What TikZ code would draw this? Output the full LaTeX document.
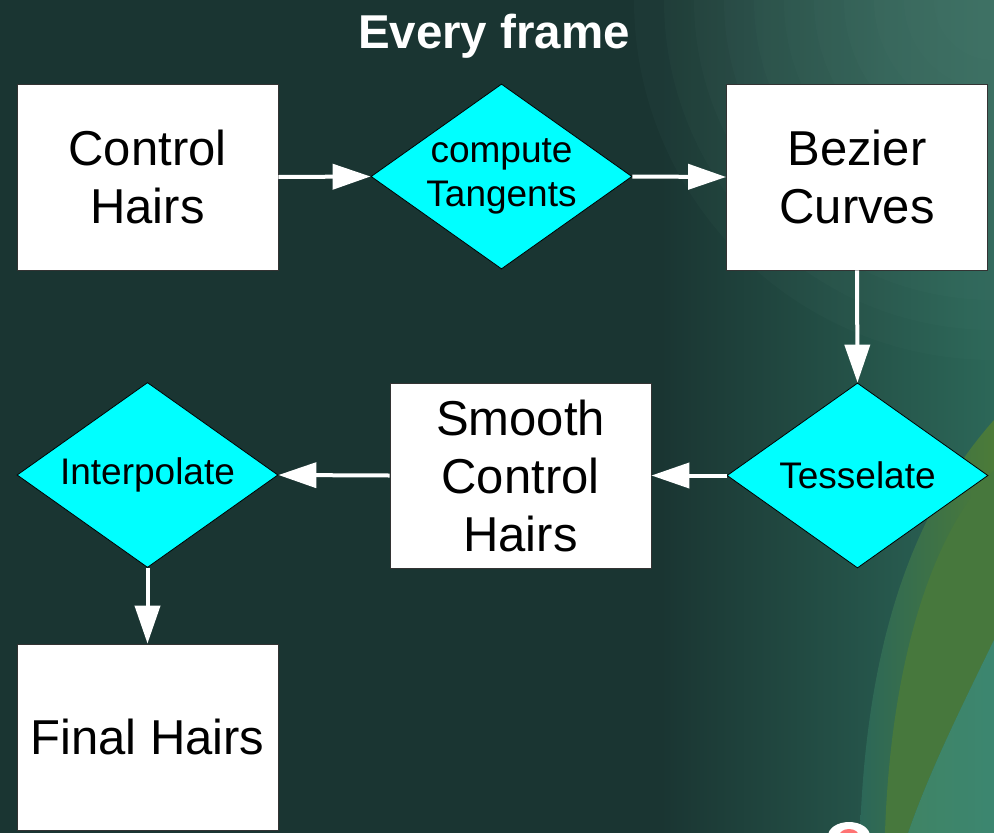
\documentclass[tikz,border=0pt]{standalone}
\usepackage{fontspec}
\setmainfont{Liberation Sans}
\usetikzlibrary{shapes.geometric,arrows.meta}

\definecolor{bgbase}{HTML}{1A3532}
\definecolor{bgteal}{HTML}{2C6758}
\definecolor{bgtealB}{HTML}{3C8670}
\definecolor{bggreen}{HTML}{4C7B38}
\definecolor{boxedge}{HTML}{333333}
\definecolor{aqua}{RGB}{0,255,255}

\tikzset{
  procbox/.style={rectangle, draw=boxedge, line width=0.8pt, fill=white,
    minimum width=261pt, minimum height=186pt, inner sep=0pt, align=center,
    font=\fontsize{49pt}{58pt}\selectfont},
  decide/.style={diamond, draw=black, line width=0.8pt, fill=aqua,
    minimum width=261pt, minimum height=185pt, inner sep=0pt},
  decidetext/.style={align=center, inner sep=0pt,
    font=\fontsize{37pt}{44pt}\selectfont},
  flow/.style={draw=white, line width=4pt,
    -{Triangle[length=38pt, width=25pt]}},
}

\begin{document}
\begin{tikzpicture}[x=1pt, y=-1pt]
  % backdrop
  \fill[bgbase] (0,0) rectangle (994,833);
  \useasboundingbox (0,0) rectangle (994,833);
  \shade[left color=bgbase, right color=bgteal] (660,0) rectangle (994,833);
  % soft glow in the upper right corner, built from faint rings
  \foreach \r in {360,330,...,60}
    \fill[bgteal!75!white, opacity=0.05] (994,0) circle (\r);
  % green crescent with a soft inner edge
  \shade[left color=bgteal, right color=bggreen]
    (860,833) .. controls (866,660) and (905,520) .. (994,420)
    -- (994,640) .. controls (960,710) and (930,770) .. (908,833) -- cycle;
  \fill[bggreen!85!bgteal]
    (885,833) .. controls (890,680) and (925,540) .. (994,470)
    -- (994,640) .. controls (960,710) and (930,770) .. (908,833) -- cycle;
  \shade[left color=bgtealB!80!bggreen, right color=bgtealB]
    (994,640) .. controls (960,710) and (930,770) .. (908,833)
    -- (994,833) -- cycle;
  \fill[white] (849,836) ellipse [x radius=21, y radius=14];
  \fill[red!55!white] (849,836) ellipse [x radius=10, y radius=7];

  % title
  \node[text=white, font=\bfseries\fontsize{47.5pt}{57pt}\selectfont,
        anchor=base] (title) at (494,48) {Every frame};

  % process boxes
  \node[procbox] (ctrl)   at (147.5,177)  {Control\\Hairs};
  \node[procbox] (bez)    at (857,177)    {Bezier\\Curves};
  \node[procbox, minimum height=185pt] (smooth) at (520.5,475.5) {Smooth\\Control\\Hairs};
  \node[procbox] (final)  at (147.5,737)  {Final Hairs};

  % operation diamonds
  \node[decide, label={[decidetext, name=tanlbl]center:compute\\Tangents}]
    (tan) at (501.5,176.5) {};
  \node[decide, label={[decidetext, name=teslbl]center:Tesselate}]
    (tes) at (857.5,475.5) {};
  \node[decide, label={[decidetext, name=intlbl]center:Interpolate}]
    (interp) at (147.5,475) {};

  % data flow
  \draw[flow] (ctrl.east) -- (tan.west);
  \draw[flow] (tan.east) -- (bez.west);
  \draw[flow] (bez.south) -- (tes.north);
  \draw[flow] (tes.west) -- (smooth.east);
  \draw[flow] (smooth.west) -- (interp.east);
  \draw[flow] (interp.south) -- (final.north);
\end{tikzpicture}
\end{document}
